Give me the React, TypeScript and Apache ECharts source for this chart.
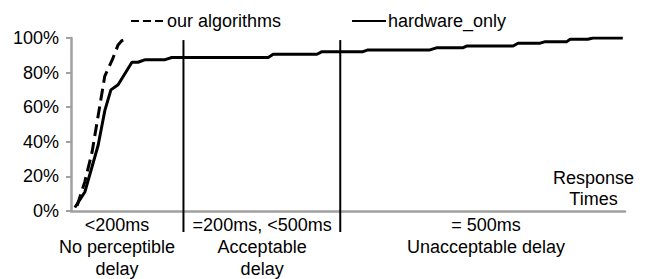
import React, { useEffect, useRef } from "react";
import * as echarts from "echarts";

// x positions: relative response-time scale (0..100 across the axis)
const hwX = [0.7, 2.5, 4.9, 6.1, 7.2, 8.5, 11.0, 12.1, 13.4, 17.0, 18.2, 35.6, 36.5, 44.4, 45.3, 52.7, 53.6, 64.8, 66.1, 70.8, 71.5, 79.8, 80.7, 84.7, 85.6, 89.5, 90.1, 93.3, 94.2, 99.6];
const hwY = [2, 11, 38, 58, 70, 73, 86, 86, 87.5, 87.5, 88.7, 88.7, 90.6, 90.6, 92.1, 92.1, 93.1, 93.1, 94.4, 94.4, 95.4, 95.4, 97.0, 97.0, 97.9, 97.9, 99.3, 99.3, 100, 100];
const algX = [1.1, 2.5, 3.8, 4.9, 6.1, 7.4, 8.5, 9.2, 10.1];
const algY = [3, 17, 34, 55, 78, 87, 96, 98.5, 99.5];

const dividers = [20.3, 48.6];
const zoneCenters = [8.3, 34.5, 74.9];
const zoneLabels = ["<200ms\nNo perceptible\ndelay", "=200ms, <500ms\nAcceptable\ndelay", "= 500ms\nUnacceptable delay"];
const yTicks = [0, 20, 40, 60, 80, 100];

const FONT = "'Liberation Sans', Arial, sans-serif";

export default function App() {
  const ref = useRef<HTMLDivElement>(null);
  useEffect(() => {
    const chart = echarts.init(ref.current!, null, { renderer: "svg" });
    chart.setOption({
      animation: false,
      textStyle: { fontFamily: FONT },
      legend: {
        left: 125,
        top: 7,
        itemGap: 70,
        itemWidth: 34,
        itemHeight: 14,
        itemStyle: { opacity: 0 },
        textStyle: { fontSize: 18, color: "#000", fontFamily: FONT, padding: [0, 0, 0, -3] },
        data: ["our algorithms", "hardware_only"],
      },
      grid: { left: 71, right: 25, top: 38, bottom: 68 },
      xAxis: {
        type: "value",
        min: 0,
        max: 100,
        axisLine: { show: true, lineStyle: { color: "#a0a0a0", width: 2.5 } },
        axisTick: { show: false },
        axisLabel: { show: false },
        splitLine: { show: false },
      },
      yAxis: {
        type: "value",
        min: 0,
        max: 100,
        interval: 20,
        axisLine: { show: true, lineStyle: { color: "#a0a0a0", width: 2.5 } },
        axisTick: { show: true, length: 5, lineStyle: { color: "#a0a0a0", width: 2 } },
        axisLabel: {
          formatter: (v: number) => (yTicks.includes(v) ? v + "%" : ""),
          fontSize: 18,
          color: "#000",
          fontFamily: FONT,
          margin: 12,
        },
        splitLine: { show: false },
      },
      graphic: [
        {
          type: "text",
          left: 553,
          top: 167,
          style: {
            text: "Response\nTimes",
            font: `18px ${FONT}`,
            fill: "#000",
            align: "center",
            textAlign: "center",
            lineHeight: 21,
          },
        },
      ],
      series: [
        {
          name: "our algorithms",
          type: "line",
          symbol: "none",
          data: algX.map((x, i) => [x, algY[i]]),
          lineStyle: { color: "#000", width: 3, type: "dashed" },
          itemStyle: { color: "#000" },
          z: 3,
        },
        {
          name: "hardware_only",
          type: "line",
          symbol: "none",
          data: hwX.map((x, i) => [x, hwY[i]]),
          lineStyle: { color: "#000", width: 3 },
          itemStyle: { color: "#000" },
          z: 3,
        },
        {
          type: "custom",
          silent: true,
          clip: false,
          data: dividers.map((d) => [d]),
          renderItem: (params: any, api: any) => {
            const top = api.coord([api.value(0), 98.8]);
            const bot = api.coord([api.value(0), 0]);
            return {
              type: "line",
              shape: { x1: top[0], y1: top[1], x2: bot[0], y2: bot[1] + 21 },
              style: { stroke: "#000", lineWidth: 2 },
            };
          },
          z: 4,
        },
        {
          type: "custom",
          silent: true,
          clip: false,
          data: zoneCenters.map((c, i) => [c, i]),
          renderItem: (params: any, api: any) => {
            const p = api.coord([api.value(0), 0]);
            const idx = api.value(1);
            return {
              type: "text",
              x: p[0],
              y: p[1] + 3,
              style: {
                text: zoneLabels[idx],
                font: `18px ${FONT}`,
                fill: "#000",
                align: "center",
                verticalAlign: "top",
                textAlign: "center",
                textVerticalAlign: "top",
                lineHeight: 22,
              },
            };
          },
          z: 4,
        },
      ],
    });
    return () => chart.dispose();
  }, []);
  return (
    <div
      ref={ref}
      style={{ position: "fixed", left: 0, top: 0, width: 650, height: 279, background: "#fff" }}
    />
  );
}
